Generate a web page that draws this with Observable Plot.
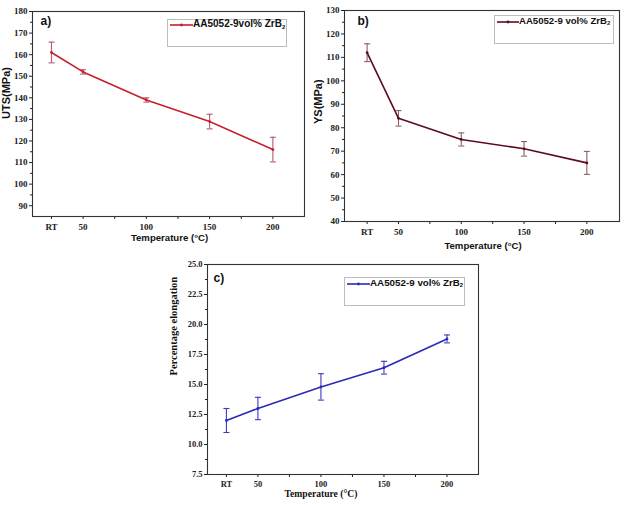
<!DOCTYPE html>
<html>
<head>
<meta charset="utf-8">
<script src="https://cdn.jsdelivr.net/npm/d3@7"></script>
<script src="https://cdn.jsdelivr.net/npm/@observablehq/plot@0.6"></script>
<style>
  body { margin: 0; background: #fff; }
  #page { position: relative; width: 624px; height: 505px; background: #fff; overflow: hidden; }
  .panel { position: absolute; }
  .legend { position: absolute; border: 1px solid #bdbdbd; background: #fff; box-sizing: border-box; }
  .legend svg { position: absolute; left: 2px; }
  .legend span { position: absolute; font-family: "Liberation Sans", Arial, sans-serif; font-weight: bold; white-space: nowrap; color: #111; }
  .legend sub { font-size: 0.6em; vertical-align: -0.25em; }
</style>
</head>
<body>
<div id="page"></div>
<script>
// Test temperatures (RT plotted at 25 °C) and their axis labels
const temps = [25, 50, 100, 150, 200];
const tempLabels = ["RT", "50", "100", "150", "200"];
const minorTemps = [75, 125, 175];

// a) ultimate tensile strength, MPa
const utsMean = [161, 152, 139, 129, 116];
const utsErr = [4.8, 1.0, 1.0, 3.4, 5.7];
const utsTicks = [90, 100, 110, 120, 130, 140, 150, 160, 170, 180];
const utsMinor = [95, 105, 115, 125, 135, 145, 155, 165, 175];

// b) yield strength, MPa
const ysMean = [112, 84, 75, 71, 65];
const ysErr = [3.8, 3.3, 2.8, 3.1, 4.9];
const ysTicks = [40, 50, 60, 70, 80, 90, 100, 110, 120, 130];
const ysMinor = [45, 55, 65, 75, 85, 95, 105, 115, 125];

// c) elongation, %
const elMean = [12.0, 13.0, 14.8, 16.4, 18.8];
const elErr = [1.0, 0.93, 1.1, 0.53, 0.33];
const elTicks = [7.5, 10.0, 12.5, 15.0, 17.5, 20.0, 22.5, 25.0];
const elMinor = [8.75, 11.25, 13.75, 16.25, 18.75, 21.25, 23.75];

const sans = "Liberation Sans, Arial, sans-serif";
const serif = "Liberation Serif, Times New Roman, serif";

// horizontal cap drawn at the end of each error bar
const capSymbol = {
  draw(context, size) {
    const r = Math.sqrt(size / Math.PI);
    context.moveTo(-r, 0);
    context.lineTo(r, 0);
  }
};

function panel(cfg) {
  const rows = temps.map((t, i) => ({t, m: cfg.mean[i], e: cfg.err[i]}));
  return Plot.plot({
    width: cfg.width,
    height: cfg.height,
    marginLeft: cfg.margin[3],
    marginRight: cfg.margin[1],
    marginTop: cfg.margin[0],
    marginBottom: cfg.margin[2],
    style: {background: "transparent", overflow: "visible", color: "#222",
            fontFamily: serif, fontWeight: "bold", fontSize: cfg.tickFontSize + "px"},
    x: {domain: cfg.xDomain, axis: null},
    y: {domain: cfg.yDomain, axis: null},
    marks: [
      Plot.axisY({ticks: cfg.yTicks, tickSize: 3, tickPadding: 2, label: null,
                  tickFormat: cfg.yFormat}),
      Plot.axisY({ticks: cfg.yMinor, tickSize: 2, label: null, tickFormat: () => ""}),
      Plot.axisX({ticks: temps, tickSize: 3, tickPadding: cfg.xPad, label: null,
                  tickFormat: d => tempLabels[temps.indexOf(d)]}),
      Plot.axisX({ticks: minorTemps, tickSize: 3, label: null, tickFormat: () => ""}),
      Plot.frame({stroke: "#333", strokeWidth: 1.1}),
      Plot.ruleX(rows, {x: "t", y1: d => d.m - d.e, y2: d => d.m + d.e, stroke: cfg.bar, strokeWidth: 1.1}),
      Plot.dot(rows, {x: "t", y: d => d.m + d.e, symbol: capSymbol, r: 3, fill: "none", stroke: cfg.bar, strokeWidth: 1.1}),
      Plot.dot(rows, {x: "t", y: d => d.m - d.e, symbol: capSymbol, r: 3, fill: "none", stroke: cfg.bar, strokeWidth: 1.1}),
      Plot.line(rows, {x: "t", y: "m", stroke: cfg.line, strokeWidth: 1.6}),
      Plot.dot(rows, {x: "t", y: "m", r: 1.4, fill: cfg.line}),
      Plot.text([cfg.tag], {text: d => d, frameAnchor: "top-left", textAnchor: "start",
                 dx: cfg.tagPos[0], dy: cfg.tagPos[1], fontFamily: sans, fontWeight: "bold", fontSize: 12, fill: "#111"}),
      Plot.text([cfg.yTitle], {text: d => d, frameAnchor: "left", rotate: -90,
                 dx: cfg.yTitlePos[0], dy: cfg.yTitlePos[1], fontFamily: cfg.titleFont,
                 fontWeight: "bold", fontSize: cfg.yTitleSize, fill: "#111"}),
      Plot.text(["Temperature (°C)"], {text: d => d, frameAnchor: "bottom",
                 dx: cfg.xTitlePos[0], dy: cfg.xTitlePos[1], fontFamily: cfg.titleFont,
                 fontWeight: "bold", fontSize: 9.6, fill: "#111"})
    ]
  });
}

function place(svg, left, top) {
  const div = document.createElement("div");
  div.className = "panel";
  div.style.left = left + "px";
  div.style.top = top + "px";
  div.appendChild(svg);
  document.getElementById("page").appendChild(div);
}

function legend(cfg) {
  const box = document.createElement("div");
  box.className = "legend";
  Object.assign(box.style, {left: cfg.x + "px", top: cfg.y + "px", width: cfg.w + "px", height: cfg.h + "px"});
  const ns = "http://www.w3.org/2000/svg";
  const s = document.createElementNS(ns, "svg");
  s.setAttribute("width", cfg.lineLen);
  s.setAttribute("height", 6);
  s.style.top = (cfg.lineY - 3) + "px";
  const ln = document.createElementNS(ns, "line");
  ln.setAttribute("x1", 0); ln.setAttribute("x2", cfg.lineLen);
  ln.setAttribute("y1", 3); ln.setAttribute("y2", 3);
  ln.setAttribute("stroke", cfg.color); ln.setAttribute("stroke-width", 1.6);
  const c = document.createElementNS(ns, "circle");
  c.setAttribute("cx", cfg.lineLen / 2); c.setAttribute("cy", 3); c.setAttribute("r", 1.4);
  c.setAttribute("fill", cfg.color);
  s.appendChild(ln); s.appendChild(c);
  box.appendChild(s);
  const t = document.createElement("span");
  t.innerHTML = cfg.text;
  t.style.left = (cfg.lineLen + 2) + "px";
  t.style.top = (cfg.lineY - 7) + "px";
  t.style.fontSize = cfg.size + "px";
  box.appendChild(t);
  document.getElementById("page").appendChild(box);
}

// c) drawn first so the upper panels sit on top of it
place(panel({
  mean: elMean, err: elErr, width: 330, height: 260, margin: [19, 12, 31, 47],
  xDomain: [10, 225], yDomain: [7.5, 25], yTicks: elTicks, yMinor: elMinor,
  yFormat: d => d.toFixed(1), tickFontSize: 8.5, xPad: 3,
  line: "#2a2ab4", bar: "#3b3bc0", tag: "c)", tagPos: [6, 9],
  yTitle: "Percentage elongation", yTitlePos: [-34, 6], yTitleSize: 10.5, titleFont: serif,
  xTitlePos: [-22, 22]
}), 160, 245);

place(panel({
  mean: utsMean, err: utsErr, width: 312, height: 250, margin: [11, 8, 34, 32],
  xDomain: [10, 225], yDomain: [85, 180], yTicks: utsTicks, yMinor: utsMinor,
  yFormat: d => d, tickFontSize: 9, xPad: 4,
  line: "#c4202e", bar: "#b45a72", tag: "a)", tagPos: [8, 5],
  yTitle: "UTS(MPa)", yTitlePos: [-26, 5], yTitleSize: 11, titleFont: sans,
  xTitlePos: [1, 24]
}), 0, 0);

place(panel({
  mean: ysMean, err: ysErr, width: 312, height: 255, margin: [10, 5, 34, 32],
  xDomain: [7, 226], yDomain: [40, 130], yTicks: ysTicks, yMinor: ysMinor,
  yFormat: d => d, tickFontSize: 9, xPad: 4,
  line: "#5c0c1c", bar: "#8a6064", tag: "b)", tagPos: [13, 6],
  yTitle: "YS(MPa)", yTitlePos: [-26, 8], yTitleSize: 11, titleFont: sans,
  xTitlePos: [1, 27]
}), 312, 0);

legend({x: 167, y: 19, w: 120, h: 28, lineLen: 23, lineY: 5, color: "#c4202e", size: 10,
        text: "AA5052-9vol% ZrB<sub>2</sub>"});
legend({x: 494, y: 15, w: 120, h: 29, lineLen: 22, lineY: 6, color: "#5c0c1c", size: 9.6,
        text: "AA5052-9 vol% ZrB<sub>2</sub>"});
legend({x: 344, y: 277, w: 121, h: 29, lineLen: 23, lineY: 6, color: "#2a2ab4", size: 9.8,
        text: "AA5052-9 vol% ZrB<sub>2</sub>"});
</script>
</body>
</html>
